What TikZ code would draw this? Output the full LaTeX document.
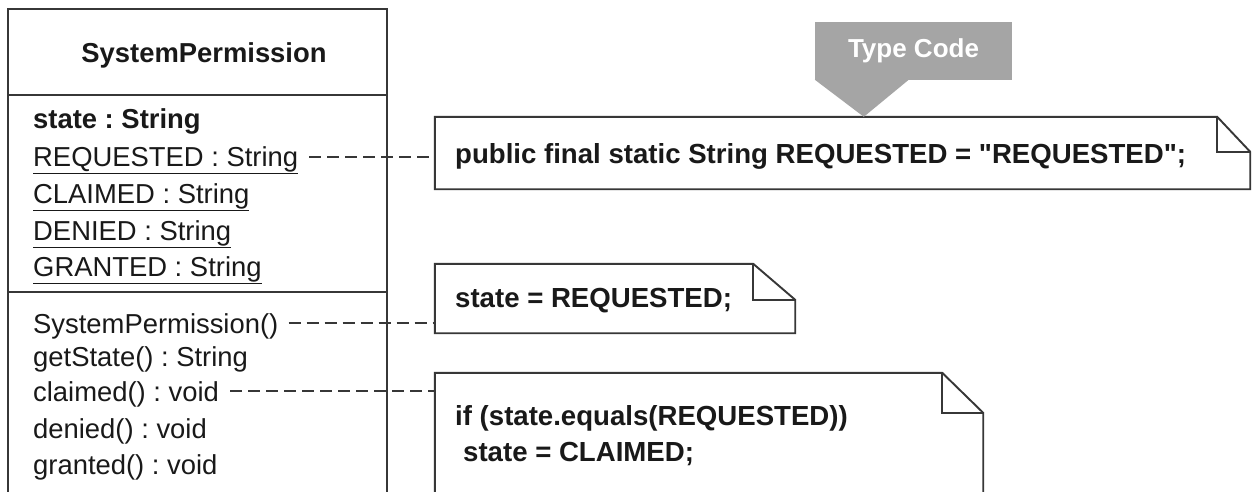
\documentclass[tikz,border=0pt]{standalone}
\usepackage{fontspec}
\setmainfont{Liberation Sans}[Ligatures=TeXOff]
\frenchspacing
\definecolor{linec}{RGB}{55,55,55}
\definecolor{textc}{RGB}{25,25,25}
\definecolor{typec}{RGB}{165,165,165}
\begin{document}
\begin{tikzpicture}[x=1pt,y=-1pt,
  line/.style={draw=linec, line width=1.9pt},
  txt/.style={anchor=base west, inner sep=0pt, font=\fontsize{27.4}{34}\selectfont, text=textc},
  btxt/.style={txt, font=\fontsize{27.6}{34}\selectfont\bfseries},
  conn/.style={draw=linec, line width=1.7pt, dash pattern=on 12pt off 6pt},
  notebox/.style={draw=none, inner sep=0pt}]
\useasboundingbox (0,0) rectangle (1255,491);
\fill[white] (0,0) rectangle (1255,491);

% class box
\coordinate (ctl) at (8,9);
\coordinate (ctr) at (387,9);
\draw[line] (8,500) -- (ctl) -- (ctr) -- (387,500);
\draw[line] (8,95) -- (387,95);
\draw[line] (8,292) -- (387,292);
\node[anchor=base, inner sep=0pt, font=\fontsize{27.4}{34}\selectfont\bfseries, text=textc] (cname) at (204,62) {SystemPermission};

% attributes
\node[btxt, font=\fontsize{27.4}{34}\selectfont\bfseries] (state) at (33,128) {state : String};
\node[txt] (req) at (33,166) {\underline{REQUESTED : String}};
\node[txt] (cla) at (33,203) {\underline{CLAIMED : String}};
\node[txt] (den) at (33,240) {\underline{DENIED : String}};
\node[txt] (gra) at (33,276) {\underline{GRANTED : String}};

% methods
\node[txt] (ctor) at (33,333) {SystemPermission()};
\node[txt] (gst) at (33,366) {getState() : String};
\node[txt] (clm) at (33,401) {claimed() : void};
\node[txt] (dnd) at (33,438) {denied() : void};
\node[txt] (grd) at (33,474) {granted() : void};

% notes
\node[notebox, minimum width=815, minimum height=72] (n1) at (842.5,153) {};
\node[notebox, minimum width=360, minimum height=69] (n2) at (615,298.5) {};
\node[notebox, minimum width=548, minimum height=130] (n3) at (709,438) {};

\draw[line, fill=white] (n1.south west) -- (n1.north west) -- ([xshift=-33pt]n1.north east) -- ([yshift=-35pt]n1.north east) -- (n1.south east) -- cycle;
\draw[line] ([xshift=-33pt]n1.north east) -- ([xshift=-33pt,yshift=-35pt]n1.north east) -- ([yshift=-35pt]n1.north east);

\draw[line, fill=white] (n2.south west) -- (n2.north west) -- ([xshift=-42pt]n2.north east) -- ([yshift=-36pt]n2.north east) -- (n2.south east) -- cycle;
\draw[line] ([xshift=-42pt]n2.north east) -- ([xshift=-42pt,yshift=-36pt]n2.north east) -- ([yshift=-36pt]n2.north east);

\draw[line] (n3.south west) -- (n3.north west) -- ([xshift=-41pt]n3.north east) -- ([yshift=-40pt]n3.north east) -- (n3.south east);
\draw[line] ([xshift=-41pt]n3.north east) -- ([xshift=-41pt,yshift=-40pt]n3.north east) -- ([yshift=-40pt]n3.north east);

\node[btxt] (t1) at (455,163) {public final static String REQUESTED = "REQUESTED";};
\node[btxt] (t2) at (455,307) {state = REQUESTED;};
\node[btxt] (t3a) at (455,425) {if (state.equals(REQUESTED))};
\node[btxt] (t3b) at (463,461) {state = CLAIMED;};

% connectors
\coordinate (c1) at ([xshift=11pt,yshift=9pt]req.base east);
\draw[conn] (c1) -- (c1 -| n1.west);
\coordinate (c2) at ([xshift=10pt,yshift=10pt]ctor.base east);
\draw[conn] (c2) -- (c2 -| n2.west);
\coordinate (c3) at ([xshift=11pt,yshift=10pt]clm.base east);
\draw[conn] (c3) -- (c3 -| n3.west);

% Type Code callout
\node[fill=typec, minimum width=197, minimum height=58, inner sep=0pt, text=white, font=\fontsize{26}{30}\selectfont\bfseries] (tc) at (913.5,51) {Type Code};
\fill[typec] ([yshift=0.5pt]tc.south west) -- ([xshift=49pt]tc.south west |- n1.north) -- ([xshift=94pt,yshift=0.5pt]tc.south west) -- cycle;
\end{tikzpicture}
\end{document}
